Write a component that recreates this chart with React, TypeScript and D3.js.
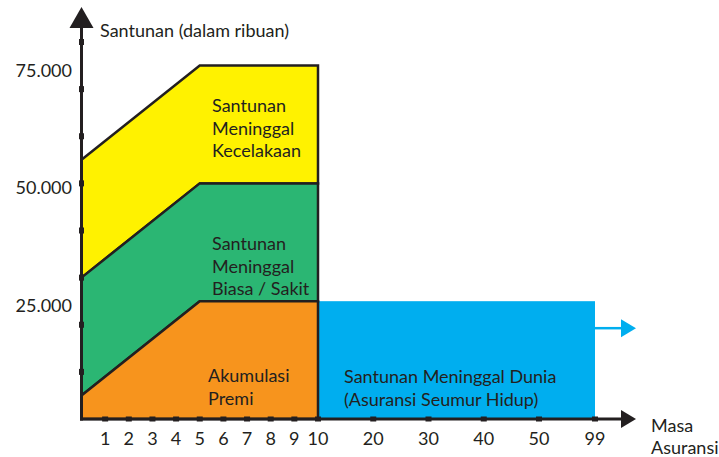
import React, { useEffect, useRef } from "react";
import { select, scaleLinear, area } from "d3";

// masa asuransi (tahun) and santunan in rupiah (ribuan)
const years = [0, 5, 10];
const akumulasiPremi = [5000, 25000, 25000];
const meninggalBiasa = [30000, 50000, 50000];
const meninggalKecelakaan = [55000, 75000, 75000];
const seumurHidupYears = [10, 99];
const seumurHidupValue = 25000;

const xTicks = [1, 2, 3, 4, 5, 6, 7, 8, 9, 10, 20, 30, 40, 50, 99];
const yLabels = [25000, 50000, 75000];
const yMarks = [10000, 20000, 30000, 40000, 50000, 60000, 70000, 80000];

const dark = "#231f20";
const font = "Lato, 'Open Sans', sans-serif";

const App = () => {
  const ref = useRef(null);

  useEffect(() => {
    const svg = select(ref.current);
    svg.selectAll("*").remove();

    // axis is not linear after 10 years
    const x = scaleLinear().domain([0, 10, 50, 99]).range([81.5, 318, 539, 595]);
    const y = scaleLinear().domain([0, 80000]).range([419, 42]);

    const idx = years.map((d, i) => i);
    const band = (lo, hi) =>
      area()
        .x((i) => x(years[i]))
        .y0((i) => (lo ? y(lo[i]) : y(0)))
        .y1((i) => y(hi[i]));

    // blue block (seumur hidup)
    svg
      .append("rect")
      .attr("x", x(seumurHidupYears[0]))
      .attr("y", y(seumurHidupValue))
      .attr("width", x(seumurHidupYears[1]) - x(seumurHidupYears[0]))
      .attr("height", y(0) - y(seumurHidupValue))
      .attr("fill", "#00aeef");

    // blue arrow continuing to the right
    const ay = y(seumurHidupValue) + 27;
    svg
      .append("line")
      .attr("x1", x(99))
      .attr("x2", x(99) + 28)
      .attr("y1", ay)
      .attr("y2", ay)
      .attr("stroke", "#00aeef")
      .attr("stroke-width", 2.5);
    svg
      .append("path")
      .attr("d", `M${x(99) + 26},${ay - 9}L${x(99) + 41},${ay}L${x(99) + 26},${ay + 9}Z`)
      .attr("fill", "#00aeef");

    const layers = [
      { lo: meninggalBiasa, hi: meninggalKecelakaan, color: "#fff200" },
      { lo: akumulasiPremi, hi: meninggalBiasa, color: "#2bb673" },
      { lo: null, hi: akumulasiPremi, color: "#f7941d" },
    ];
    layers.forEach((l) => {
      svg
        .append("path")
        .attr("d", band(l.lo, l.hi)(idx) + "")
        .attr("fill", l.color)
        .attr("stroke", dark)
        .attr("stroke-width", 2.5)
        .attr("stroke-linejoin", "miter");
    });

    // axes
    svg
      .append("line")
      .attr("x1", x(0))
      .attr("x2", x(0))
      .attr("y1", y(0) + 1.5)
      .attr("y2", 26)
      .attr("stroke", dark)
      .attr("stroke-width", 3);
    svg
      .append("path")
      .attr("d", `M${x(0) - 12},28L${x(0)},7L${x(0) + 12},28Z`)
      .attr("fill", dark);
    svg
      .append("line")
      .attr("x1", x(0) - 1.5)
      .attr("x2", 624)
      .attr("y1", y(0))
      .attr("y2", y(0))
      .attr("stroke", dark)
      .attr("stroke-width", 3);
    svg
      .append("path")
      .attr("d", `M621,${y(0) - 9}L636,${y(0)}L621,${y(0) + 9}Z`)
      .attr("fill", dark);

    // square tick marks
    svg
      .selectAll(".ytick")
      .data(yMarks)
      .join("rect")
      .attr("x", x(0) - 2.5)
      .attr("y", (d) => y(d) - 3)
      .attr("width", 5)
      .attr("height", 6)
      .attr("fill", dark);
    svg
      .selectAll(".xtick")
      .data(xTicks)
      .join("rect")
      .attr("x", (d) => x(d) - 3)
      .attr("y", y(0) - 2.5)
      .attr("width", 6)
      .attr("height", 5)
      .attr("fill", dark);

    // tick labels
    svg
      .selectAll(".xlab")
      .data(xTicks)
      .join("text")
      .attr("x", (d) => x(d))
      .attr("y", 445)
      .attr("text-anchor", "middle")
      .text((d) => d);
    svg
      .selectAll(".ylab")
      .data(yLabels)
      .join("text")
      .attr("x", 72)
      .attr("y", (d) => y(d) + 11)
      .attr("text-anchor", "end")
      .text((d) => (d / 1000).toFixed(0) + ".000");

    svg.append("text").attr("x", 100).attr("y", 37).text("Santunan (dalam ribuan)");
    svg.append("text").attr("x", 651).attr("y", 432).text("Masa");
    svg.append("text").attr("x", 651).attr("y", 454).text("Asuransi");

    const block = (lines, tx, ty) => {
      lines.forEach((t, i) =>
        svg.append("text").attr("x", tx).attr("y", ty + i * 22.5).text(t)
      );
    };
    block(["Santunan", "Meninggal", "Kecelakaan"], 212, 112);
    block(["Santunan", "Meninggal", "Biasa / Sakit"], 212, 250);
    block(["Akumulasi", "Premi"], 208, 382);
    block(["Santunan Meninggal Dunia", "(Asuransi Seumur Hidup)"], 344, 383);

    svg.selectAll("text").attr("font-family", font).attr("font-size", 18).attr("fill", dark);
  }, []);

  return (
    <svg
      ref={ref}
      width={719}
      height={457}
      style={{ position: "absolute", left: 0, top: 0, background: "#fff" }}
    />
  );
};

export default App;
